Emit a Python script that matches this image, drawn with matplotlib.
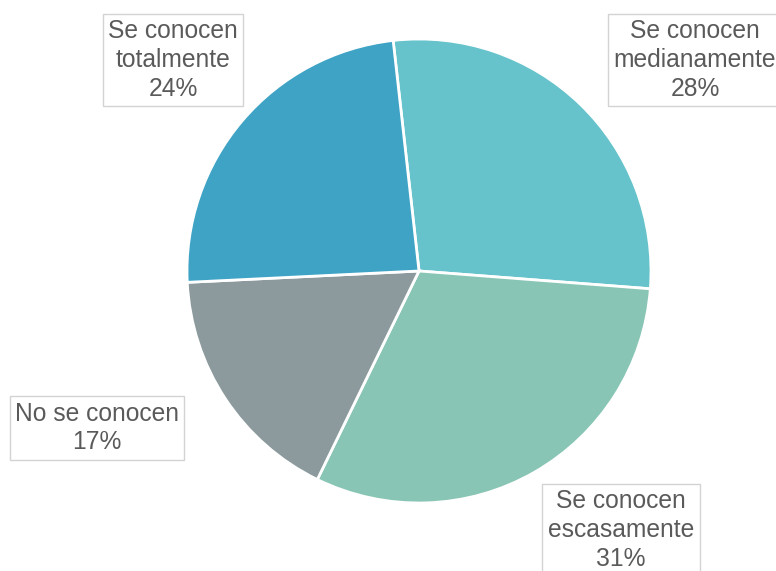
import numpy as np
from matplotlib import pyplot as plt

labels = ['Se conocen\nmedianamente', 'Se conocen\nescasamente', 'No se conocen', 'Se conocen\ntotalmente']
values = [28, 31, 17, 24]
colors = ['#66C3CB', '#88C5B4', '#8C9A9E', '#3EA3C5']
# label centres in pixel coords (x, y from top)
label_pos = [(695, 60), (621, 530), (97, 428), (173, 60)]

W, H = 776, 571
fig = plt.figure(figsize=(W / 100, H / 100), dpi=100)
ax = fig.add_axes([0, 0, 1, 1])
ax.set_xlim(0, W)
ax.set_ylim(0, H)
ax.axis('off')

ax.pie(values, colors=colors, startangle=96.4, counterclock=False,
       center=(419, H - 271), radius=232,
       wedgeprops=dict(edgecolor='white', linewidth=2))
ax.set_xlim(0, W)
ax.set_ylim(0, H)
ax.set_aspect('equal')

for lab, v, (x, y) in zip(labels, values, label_pos):
    ax.text(x, H - y, '%s\n%d%%' % (lab, v), ha='center', va='center',
            fontsize=17.7, family='Liberation Sans', color='#5A5A5A',
            linespacing=1.25,
            bbox=dict(boxstyle='square,pad=0.22', fc='white', ec='#D3D3D3', lw=1))

fig.savefig('out.png', dpi=100)
